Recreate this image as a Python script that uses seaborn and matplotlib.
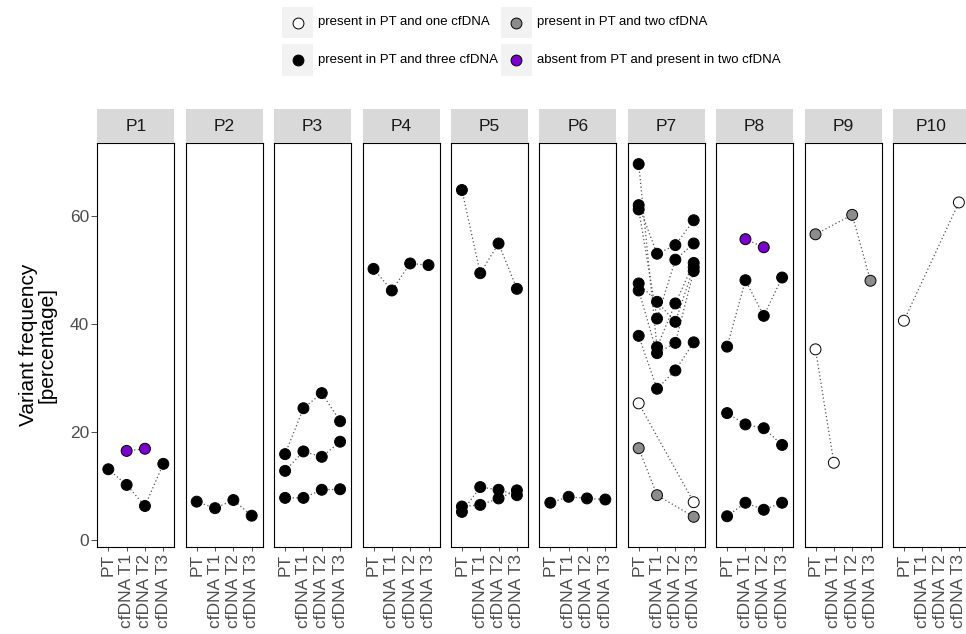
import numpy as np
import pandas as pd
import seaborn as sns
import matplotlib.pyplot as plt
from matplotlib.patches import Rectangle

# Data
patients = ["P1", "P2", "P3", "P4", "P5", "P6", "P7", "P8", "P9", "P10"]
timepoints = ["PT", "cfDNA T1", "cfDNA T2", "cfDNA T3"]
groups = ["one", "two", "three", "absent"]
group_labels = ["present in PT and one cfDNA", "present in PT and two cfDNA",
                "present in PT and three cfDNA", "absent from PT and present in two cfDNA"]
group_colors = ["#FFFFFF", "#8C8C8C", "#000000", "#7A00CC"]

nan = np.nan
variant_patient = ["P1", "P1",
                   "P2",
                   "P3", "P3", "P3",
                   "P4",
                   "P5", "P5", "P5",
                   "P6",
                   "P7", "P7", "P7", "P7", "P7", "P7", "P7", "P7",
                   "P8", "P8", "P8", "P8",
                   "P9", "P9",
                   "P10"]
variant_group = ["three", "absent",
                 "three",
                 "three", "three", "three",
                 "three",
                 "three", "three", "three",
                 "three",
                 "three", "three", "three", "three", "three", "three", "one", "two",
                 "three", "three", "three", "absent",
                 "two", "one",
                 "one"]
variant_values = [
    [13.1, 10.2, 6.3, 14.1], [nan, 16.5, 16.9, nan],
    [7.1, 5.9, 7.4, 4.5],
    [15.9, 24.4, 27.2, 22.0], [12.8, 16.4, 15.4, 18.2], [7.8, 7.8, 9.3, 9.4],
    [50.2, 46.2, 51.2, 50.9],
    [64.8, 49.4, 54.9, 46.5], [5.2, 9.8, 9.3, 8.3], [6.2, 6.5, 7.7, 9.2],
    [6.9, 8.0, 7.7, 7.5],
    [69.6, 35.7, 43.8, 51.3], [62.0, 53.0, 54.6, 59.2], [61.2, 41.0, 51.9, 54.9],
    [47.5, 44.1, 40.4, 50.5], [46.2, 34.6, 36.5, 49.8], [37.8, 28.0, 31.4, 36.6],
    [25.3, nan, nan, 7.0], [17.0, 8.3, nan, 4.3],
    [35.8, 48.1, 41.5, 48.6], [23.5, 21.4, 20.7, 17.6], [4.4, 6.9, 5.6, 6.9],
    [nan, 55.7, 54.2, nan],
    [56.6, nan, 60.2, 48.0], [35.3, 14.3, nan, nan],
    [40.6, nan, nan, 62.5],
]

rows = []
for vid, (p, g, vals) in enumerate(zip(variant_patient, variant_group, variant_values)):
    for ti, v in enumerate(vals):
        if not np.isnan(v):
            rows.append({"variant": vid, "patient": p, "group": g, "x": ti, "vaf": v})
df = pd.DataFrame(rows)
palette = dict(zip(groups, group_colors))

sns.set_theme(style="white")
plt.rcParams["font.family"] = ["Liberation Sans", "DejaVu Sans"]

W, H = 966, 634
fig = plt.figure(figsize=(W / 100, H / 100), dpi=100)


def fx(px):
    return px / W


def fy(py):
    return 1 - py / H


panel_left, panel_step, panel_w = 97.3, 88.4, 77.0
panel_top, panel_bottom, strip_h = 143.3, 547.3, 34.0

for i, p in enumerate(patients):
    left = panel_left + i * panel_step
    ax = fig.add_axes([fx(left), fy(panel_bottom), fx(panel_w), (panel_bottom - panel_top) / H])
    sub = df[df["patient"] == p]
    sns.lineplot(data=sub, x="x", y="vaf", units="variant", estimator=None, sort=False,
                 color="#555555", linewidth=0.9, linestyle=(0, (1, 2)), ax=ax, legend=False)
    sns.scatterplot(data=sub, x="x", y="vaf", hue="group", hue_order=groups, palette=palette,
                    edgecolor="black", linewidth=0.7, s=62, ax=ax, legend=False, zorder=3)
    ax.set_xlim(-0.6, 3.6)
    ax.set_ylim(-1.35, 73.45)
    ax.set_xticks(range(4))
    ax.set_xticklabels(timepoints, rotation=90, fontsize=12.5, color="#4D4D4D")
    ax.set_xlabel("")
    ax.set_ylabel("")
    ax.tick_params(axis="x", length=3, width=0.6, color="#333333", pad=2, bottom=True)
    if i == 0:
        ax.set_yticks([0, 20, 40, 60])
        ax.tick_params(axis="y", length=4, width=0.6, color="#333333", pad=2, left=True,
                       labelsize=12.5, labelcolor="#4D4D4D")
    else:
        ax.set_yticks([])
    for s in ax.spines.values():
        s.set_color("black")
        s.set_linewidth(0.8)
    ax.grid(False)

    sax = fig.add_axes([fx(left), fy(panel_top), fx(panel_w), strip_h / H])
    sax.set_facecolor("#D9D9D9")
    sax.set_xticks([])
    sax.set_yticks([])
    for s in sax.spines.values():
        s.set_visible(False)
    sax.text(0.5, 0.5, p, ha="center", va="center", fontsize=12.5, color="#1A1A1A",
             transform=sax.transAxes)

fig.text(fx(37.5), fy(345), "Variant frequency\n[percentage]", rotation=90,
         ha="center", va="center", fontsize=15, linespacing=1.0, color="black")

# legend at the top, two columns
key_x = [282, 500.7]
key_y = [7, 44.5]
key_size = 31
for k, (lab, col) in enumerate(zip(group_labels, group_colors)):
    r, c = divmod(k, 2)
    x0, y0 = key_x[c], key_y[r]
    fig.patches.append(Rectangle((fx(x0), fy(y0 + key_size)), key_size / W, key_size / H,
                                 transform=fig.transFigure, facecolor="#F2F2F2",
                                 edgecolor="none"))
    fig.lines.append(plt.Line2D([fx(x0 + key_size / 2)], [fy(y0 + key_size / 2)],
                                transform=fig.transFigure, marker="o", markersize=7.8,
                                markerfacecolor=col, markeredgecolor="black",
                                markeredgewidth=0.7, linestyle="none"))
    fig.text(fx(x0 + key_size + 5), fy(y0 + key_size / 2), lab, ha="left", va="center",
             fontsize=9.5, color="black")

fig.savefig("out.png", dpi=100)
